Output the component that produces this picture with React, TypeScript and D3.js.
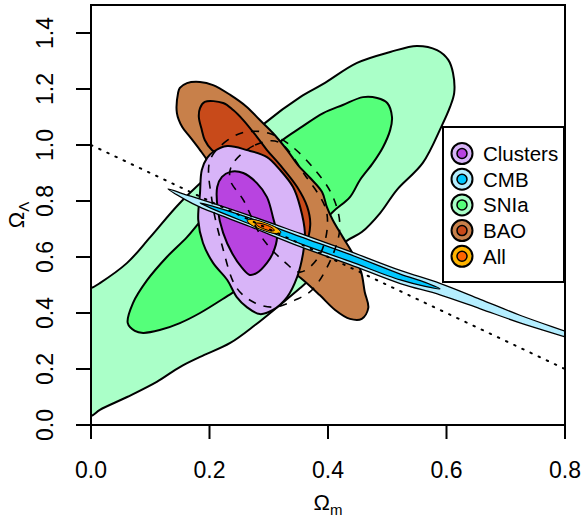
import React from 'react';
import * as d3 from 'd3';

type P = [number, number];

// ---- axis ticks ----
const xTicks = [0, 0.2, 0.4, 0.6, 0.8];
const yTicks = [0, 0.2, 0.4, 0.6, 0.8, 1.0, 1.2, 1.4];

// ---- contours (Omega_m, Omega_Lambda) ----
const sniaOuter: P[] = [
  [-0.03, 0.48], [0.0, 0.489], [0.015, 0.507], [0.061, 0.579], [0.100, 0.671], [0.150, 0.793], [0.218, 0.929],
  [0.294, 1.079], [0.353, 1.171], [0.392, 1.218], [0.449, 1.293], [0.505, 1.332], [0.550, 1.354],
  [0.584, 1.339], [0.603, 1.304], [0.611, 1.257], [0.613, 1.186], [0.606, 1.136], [0.591, 1.064],
  [0.560, 0.936], [0.516, 0.839], [0.488, 0.757], [0.457, 0.689], [0.429, 0.654], [0.395, 0.571],
  [0.353, 0.489], [0.319, 0.429], [0.277, 0.357], [0.235, 0.293], [0.184, 0.243], [0.150, 0.207],
  [0.111, 0.154], [0.061, 0.100], [0.015, 0.054], [0.0, 0.032], [-0.03, 0.02],
];
const sniaInner: P[] = [
  [0.062, 0.364], [0.071, 0.436], [0.095, 0.518], [0.128, 0.600], [0.162, 0.671], [0.192, 0.746],
  [0.251, 0.875], [0.319, 1.011], [0.353, 1.061], [0.392, 1.114], [0.425, 1.143], [0.459, 1.171],
  [0.483, 1.168], [0.500, 1.150], [0.508, 1.100], [0.505, 1.054], [0.493, 0.993], [0.476, 0.936],
  [0.454, 0.875], [0.437, 0.814], [0.408, 0.761], [0.353, 0.643], [0.294, 0.546], [0.238, 0.471],
  [0.184, 0.400], [0.150, 0.364], [0.116, 0.339], [0.088, 0.329], [0.074, 0.336],
];
const baoOuter: P[] = [
  [0.147, 1.186], [0.145, 1.114], [0.154, 1.064], [0.167, 1.029], [0.184, 0.982], [0.196, 0.946],
  [0.235, 0.804], [0.285, 0.661], [0.332, 0.561], [0.358, 0.518], [0.386, 0.464], [0.412, 0.411],
  [0.437, 0.379], [0.457, 0.379], [0.468, 0.418], [0.462, 0.475], [0.456, 0.546], [0.442, 0.611],
  [0.425, 0.671], [0.408, 0.732], [0.398, 0.779], [0.390, 0.832], [0.370, 0.882], [0.349, 0.929],
  [0.331, 0.982], [0.307, 1.043], [0.285, 1.089], [0.263, 1.136], [0.235, 1.179], [0.206, 1.214],
  [0.184, 1.225], [0.162, 1.221], [0.150, 1.204],
];
const baoInner: P[] = [
  [0.182, 1.100], [0.184, 1.132], [0.192, 1.154], [0.223, 1.150], [0.240, 1.125], [0.257, 1.089],
  [0.280, 1.029], [0.297, 0.982], [0.319, 0.929], [0.348, 0.850], [0.365, 0.779], [0.370, 0.714],
  [0.363, 0.661], [0.349, 0.668], [0.327, 0.732], [0.285, 0.839], [0.243, 0.929], [0.204, 0.982],
  [0.192, 1.018], [0.187, 1.054],
];
const clustersOuter: P[] = [
  [0.206, 0.975], [0.230, 0.996], [0.263, 0.982], [0.297, 0.957], [0.319, 0.911], [0.341, 0.850],
  [0.353, 0.779], [0.361, 0.686], [0.358, 0.614], [0.348, 0.529], [0.331, 0.457], [0.307, 0.411],
  [0.285, 0.396], [0.263, 0.421], [0.246, 0.457], [0.230, 0.518], [0.206, 0.579], [0.189, 0.650],
  [0.181, 0.732], [0.184, 0.829], [0.187, 0.911], [0.196, 0.954],
];
const clustersInner: P[] = [
  [0.213, 0.850], [0.221, 0.886], [0.235, 0.904], [0.257, 0.900], [0.280, 0.864], [0.297, 0.814],
  [0.307, 0.743], [0.314, 0.671], [0.307, 0.614], [0.297, 0.579], [0.280, 0.543], [0.268, 0.536],
  [0.255, 0.561], [0.238, 0.614], [0.223, 0.686], [0.214, 0.768],
];
const cmbOuter: P[] = [
  [0.130, 0.843], [0.159, 0.823], [0.184, 0.807], [0.268, 0.748], [0.353, 0.684], [0.437, 0.620],
  [0.522, 0.552], [0.589, 0.506], [0.657, 0.449], [0.724, 0.392], [0.800, 0.335], [0.825, 0.316],
  [0.825, 0.298], [0.800, 0.315], [0.724, 0.365], [0.657, 0.415], [0.589, 0.465], [0.522, 0.505],
  [0.437, 0.573], [0.353, 0.637], [0.268, 0.709], [0.184, 0.778], [0.159, 0.805],
];
const cmbInner: P[] = [
  [0.184, 0.793], [0.209, 0.779], [0.268, 0.739], [0.353, 0.673], [0.437, 0.609], [0.522, 0.539],
  [0.564, 0.509], [0.589, 0.486], [0.564, 0.495], [0.522, 0.518], [0.437, 0.584], [0.353, 0.648],
  [0.268, 0.718], [0.209, 0.768],
];
const allOuter: P[] = [
  [0.3205, 0.687], [0.3105, 0.684], [0.2896, 0.696], [0.2702, 0.715], [0.2635, 0.731],
  [0.2735, 0.734], [0.2943, 0.722], [0.3138, 0.703],
];
const allInner: P[] = [
  [0.3095, 0.695], [0.304, 0.693], [0.2923, 0.700], [0.2815, 0.711], [0.2778, 0.720],
  [0.2834, 0.721], [0.295, 0.715], [0.3058, 0.704],
];
// dashed reference contours
const dashedOuter: P[] = [
  [0.260, 1.046], [0.231, 1.018], [0.201, 0.946], [0.204, 0.804], [0.221, 0.643], [0.246, 0.489],
  [0.277, 0.436], [0.311, 0.421], [0.344, 0.446], [0.373, 0.482], [0.408, 0.607], [0.420, 0.714],
  [0.407, 0.821], [0.378, 0.911], [0.336, 1.000], [0.299, 1.043],
];
const dashedInner: P[] = [
  [0.238, 0.929], [0.277, 1.000], [0.316, 1.011], [0.361, 0.893], [0.398, 0.757], [0.386, 0.607],
  [0.353, 0.546], [0.327, 0.582], [0.289, 0.668], [0.257, 0.804], [0.235, 0.875],
];
// flat-universe line
const flatLine: P[] = [[0, 1.0], [0.8, 0.2]];

const series = [
  { name: 'SNIa', light: '#AAFFC8', dark: '#55FF7A', outer: sniaOuter, inner: sniaInner, lw: 2 },
  { name: 'BAO', light: '#C8804A', dark: '#C84A1A', outer: baoOuter, inner: baoInner, lw: 2 },
  { name: 'Clusters', light: '#D8B4F8', dark: '#B844E0', outer: clustersOuter, inner: clustersInner, lw: 2 },
  { name: 'CMB', light: '#B4EEFF', dark: '#00C8FF', outer: cmbOuter, inner: cmbInner, lw: 1.3 },
  { name: 'All', light: '#FFB400', dark: '#FF6400', outer: allOuter, inner: allInner, lw: 1 },
];
const legendOrder = ['Clusters', 'CMB', 'SNIa', 'BAO', 'All'];

const W = 582, H = 521;
const L = 91, R = 565, T = 5, B = 425;
const FONT = '"Liberation Sans", Arial, Helvetica, sans-serif';

export default function App() {
  const x = d3.scaleLinear().domain([0, 0.8]).range([L, R]);
  const y = d3.scaleLinear().domain([0, 1.5]).range([B, T]);
  const closed = d3.line<P>().x(d => x(d[0])).y(d => y(d[1])).curve(d3.curveCatmullRomClosed.alpha(0.5));
  const lin = d3.line<P>().x(d => x(d[0])).y(d => y(d[1]));

  const lx = 443, ly = 127, lw = 121, lh = 155;
  return (
    <svg width={W} height={H} style={{ position: 'absolute', left: 0, top: 0, background: '#fff' }} fontFamily={FONT}>
      <defs>
        <clipPath id="plotclip"><rect x={L} y={T} width={R - L} height={B - T} /></clipPath>
      </defs>
      <rect x={0} y={0} width={W} height={H} fill="#fff" />
      <g clipPath="url(#plotclip)">
        {series.map(s => (
          <g key={s.name}>
            <path d={closed(s.outer) || ''} fill={s.light} stroke="#000" strokeWidth={s.lw} strokeLinejoin="round" />
            <path d={closed(s.inner) || ''} fill={s.dark} stroke="#000" strokeWidth={s.lw} strokeLinejoin="round" />
          </g>
        ))}
        <path d={closed(dashedOuter) || ''} fill="none" stroke="#000" strokeWidth={1.6} strokeDasharray="8 8" />
        <path d={closed(dashedInner) || ''} fill="none" stroke="#000" strokeWidth={1.6} strokeDasharray="8 8" />
        <path d={lin(flatLine) || ''} fill="none" stroke="#000" strokeWidth={2} strokeDasharray="1.5 7.5" strokeLinecap="round" />
      </g>
      {/* box */}
      <rect x={L} y={T} width={R - L} height={B - T} fill="none" stroke="#000" strokeWidth={2} />
      {/* x axis */}
      {xTicks.map(t => (
        <g key={'x' + t}>
          <line x1={x(t)} x2={x(t)} y1={B} y2={B + 14} stroke="#000" strokeWidth={2} />
          <text x={x(t)} y={478} fontSize={23} textAnchor="middle">{t.toFixed(1)}</text>
        </g>
      ))}
      {yTicks.map(t => (
        <g key={'y' + t}>
          <line x1={L - 15} x2={L} y1={y(t)} y2={y(t)} stroke="#000" strokeWidth={2} />
          <text transform={`translate(53,${y(t)}) rotate(-90)`} fontSize={23} textAnchor="middle">{t.toFixed(1)}</text>
        </g>
      ))}
      <text x={(L + R) / 2} y={510} fontSize={22} textAnchor="middle">
        Ω<tspan fontSize={15} dy={5}>m</tspan>
      </text>
      <text transform={`translate(24,${(T + B) / 2}) rotate(-90)`} fontSize={22} textAnchor="middle">
        Ω<tspan fontSize={15} dy={5}>Λ</tspan>
      </text>
      {/* legend */}
      <rect x={lx} y={ly} width={lw} height={lh} fill="#fff" stroke="#000" strokeWidth={2} />
      {legendOrder.map((n, i) => {
        const s = series.find(q => q.name === n)!;
        const cy = 153.5 + i * 25.7;
        return (
          <g key={n}>
            <circle cx={462} cy={cy} r={10.5} fill={s.light} stroke="#000" strokeWidth={2} />
            <circle cx={462} cy={cy} r={5} fill={s.dark} stroke="#000" strokeWidth={1.5} />
            <text x={483} y={cy + 7.5} fontSize={20.5}>{n}</text>
          </g>
        );
      })}
    </svg>
  );
}
